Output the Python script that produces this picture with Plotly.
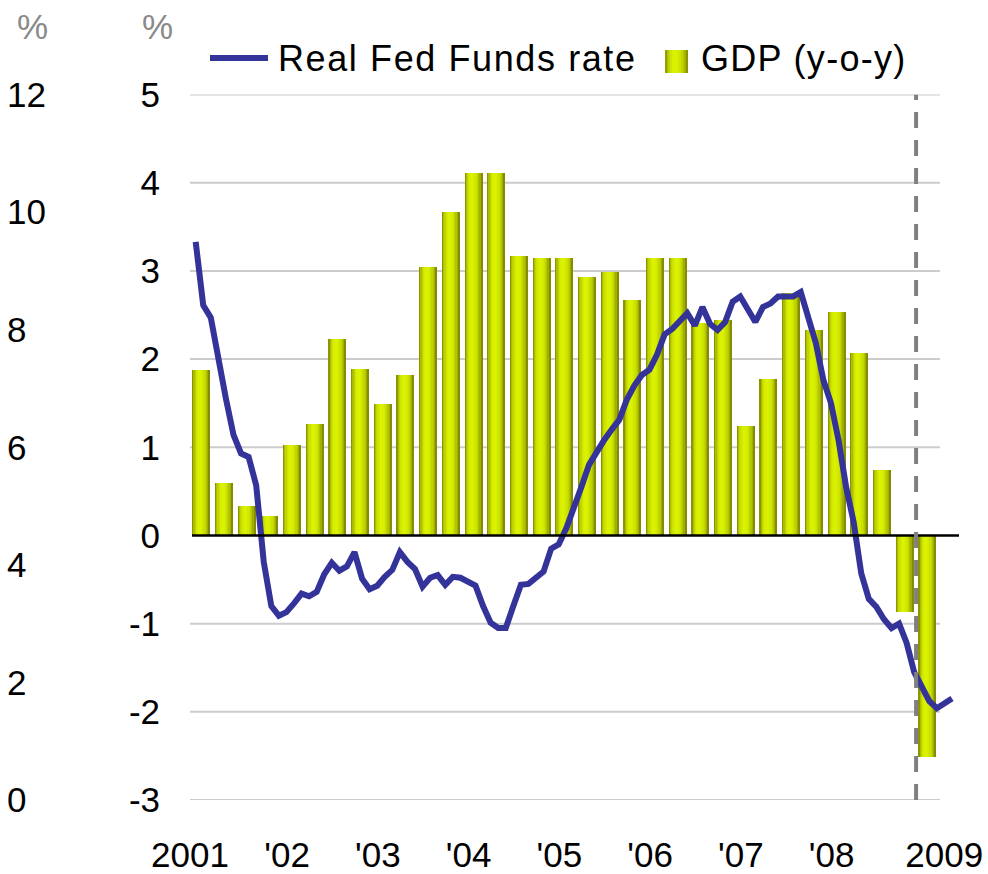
import numpy as np
import plotly.graph_objects as go

# ---------------- data ----------------
# GDP growth, y-o-y %, quarterly 2001Q1 .. 2009Q1
gdp_first_year = 2001
gdp_yoy = [1.88, 0.60, 0.345, 0.23,
           1.03, 1.27, 2.23, 1.89,
           1.50, 1.82, 3.05, 3.67,
           4.12, 4.12, 3.17, 3.15,
           3.15, 2.94, 2.99, 2.67,
           3.15, 3.15, 2.41, 2.45,
           1.25, 1.78, 2.76, 2.34,
           2.54, 2.07, 0.75, -0.865,
           -2.51]

# Real Fed Funds rate, %, monthly from Jan 2001
fed_first_year = 2001
real_fed_funds = [3.33, 2.61, 2.47, 1.99, 1.55, 1.14, 0.93, 0.89, 0.57, -0.30,
                  -0.80, -0.91, -0.87, -0.77, -0.66, -0.69, -0.64, -0.44, -0.31, -0.40,
                  -0.35, -0.19, -0.49, -0.61, -0.57, -0.47, -0.39, -0.19, -0.30, -0.38,
                  -0.58, -0.48, -0.45, -0.56, -0.47, -0.48, -0.52, -0.57, -0.80, -0.99,
                  -1.05, -1.05, -0.80, -0.56, -0.55, -0.47, -0.41, -0.15, -0.10, 0.08,
                  0.30, 0.55, 0.80, 0.95, 1.08, 1.20, 1.31, 1.54, 1.70, 1.82,
                  1.88, 2.05, 2.28, 2.34, 2.43, 2.52, 2.38, 2.59, 2.40, 2.33,
                  2.42, 2.65, 2.71, 2.56, 2.42, 2.59, 2.63, 2.71, 2.71, 2.71,
                  2.76, 2.44, 2.18, 1.76, 1.50, 1.08, 0.55, 0.15, -0.43, -0.72,
                  -0.81, -0.95, -1.05, -1.00, -1.22, -1.55, -1.70, -1.88, -1.96, -1.91,
                  -1.85]

year_ticks = [2001, 2002, 2003, 2004, 2005, 2006, 2007, 2008, 2009]
year_labels = ["2001", "'02", "'03", "'04", "'05", "'06", "'07", "'08", "2009"]
inner_ticks = [-3, -2, -1, 0, 1, 2, 3, 4, 5]
inner_labels = ["-3", "-2", "-1", "0", "1", "2", "3", "4", "5"]
outer_ticks = [0, 2, 4, 6, 8, 10, 12]
outer_labels = ["0", "2", "4", "6", "8", "10", "12"]
break_year = 2009  # dashed marker

# ---------------- layout constants ----------------
W, H = 988, 874
PX_LEFT, PX_RIGHT = 190, 960
PX_PER_YEAR = 90.76
X_MIN = 2001.0
X_MAX = X_MIN + (PX_RIGHT - PX_LEFT) / PX_PER_YEAR
PY_TOP, PY_BOT = 94.5, 800.0
LINE_COLOR = "#333399"
FONT = "Liberation Sans, Arial, Helvetica, sans-serif"


def px_to_x(px):
    return X_MIN + (px - PX_LEFT) / PX_PER_YEAR


def pxx(px):
    return px / W


def pxy(py):
    return 1 - py / H


# positions derived from data
gdp_x = [gdp_first_year + i * 0.25 + 0.125 for i in range(len(gdp_yoy))]
fed_x = [fed_first_year + (i + 0.75) / 12 for i in range(len(real_fed_funds))]

# gradient colours for cylinder-like bars
N_STRIPS = 14
BAR_W = 0.19
dark = np.array([98, 102, 0])
bright = np.array([218, 242, 0])


def strip_color(t):
    if t < 0.42:
        f = 1 - ((0.42 - t) / 0.42) ** 2
    else:
        f = 1 - ((t - 0.42) / 0.58) ** 2
    f = max(f, 0) ** 0.6
    c = dark + (bright - dark) * f
    return "rgb(%d,%d,%d)" % tuple(int(round(v)) for v in c)


fig = go.Figure()

sw = BAR_W / N_STRIPS
for k in range(N_STRIPS):
    t = (k + 0.5) / N_STRIPS
    off = -BAR_W / 2 + k * sw
    width = min(sw * 1.6, BAR_W / 2 - off)
    fig.add_trace(go.Bar(
        x=gdp_x, y=gdp_yoy, width=width, offset=off,
        marker=dict(color=strip_color(t), line=dict(width=0)),
        name="GDP (y-o-y)", showlegend=False, hoverinfo="skip", yaxis="y"))

fig.add_trace(go.Scatter(
    x=fed_x, y=real_fed_funds, mode="lines", name="Real Fed Funds rate",
    line=dict(color=LINE_COLOR, width=6), showlegend=False, yaxis="y"))

# placeholder so that the outer (left-most) percent axis is drawn
fig.add_trace(go.Scatter(x=[None], y=[None], yaxis="y2", mode="lines",
                         showlegend=False, hoverinfo="skip"))

shapes = []
# horizontal gridlines
for v in inner_ticks:
    if v == 0:
        continue
    shapes.append(dict(type="line", xref="x", yref="y", x0=X_MIN, x1=px_to_x(940),
                       y0=v, y1=v, line=dict(color="#cccccc", width=2), layer="below"))
# zero line
shapes.append(dict(type="line", xref="x", yref="y", x0=px_to_x(192), x1=px_to_x(959),
                   y0=0, y1=0, line=dict(color="black", width=2.5), layer="above"))
# dashed vertical marker
shapes.append(dict(type="line", xref="x", yref="y", x0=break_year, x1=break_year,
                   y0=inner_ticks[0], y1=inner_ticks[-1],
                   line=dict(color="#808080", width=4, dash="16px,12px"), layer="above"))

# manual legend
shapes.append(dict(type="line", xref="paper", yref="paper", x0=pxx(210), x1=pxx(268),
                   y0=pxy(58), y1=pxy(58), line=dict(color=LINE_COLOR, width=6)))
SW_L, SW_R, SW_T, SW_B = 665, 688, 50, 73
nsw = 10
for k in range(nsw):
    t = (k + 0.5) / nsw
    x0 = SW_L + k * (SW_R - SW_L) / nsw
    x1 = SW_L + (k + 1.3) * (SW_R - SW_L) / nsw
    x1 = min(x1, SW_R)
    shapes.append(dict(type="rect", xref="paper", yref="paper", x0=pxx(x0), x1=pxx(x1),
                       y0=pxy(SW_B), y1=pxy(SW_T), fillcolor=strip_color(t),
                       line=dict(width=0)))

annotations = [
    dict(text='<span style="letter-spacing:1.6px">Real Fed Funds rate</span>',
         xref="paper", yref="paper", x=pxx(276), y=pxy(59), xanchor="left", yanchor="middle",
         showarrow=False, font=dict(family=FONT, size=36, color="black")),
    dict(text='<span style="letter-spacing:1.3px">GDP (y-o-y)</span>',
         xref="paper", yref="paper", x=pxx(699), y=pxy(59), xanchor="left", yanchor="middle",
         showarrow=False, font=dict(family=FONT, size=36, color="black")),
    dict(text="%", xref="paper", yref="paper", x=pxx(32), y=pxy(27), xanchor="center",
         yanchor="middle", showarrow=False, font=dict(family=FONT, size=35, color="#8a8a8a")),
    dict(text="%", xref="paper", yref="paper", x=pxx(157), y=pxy(27), xanchor="center",
         yanchor="middle", showarrow=False, font=dict(family=FONT, size=35, color="#8a8a8a")),
]

label_shift = [0.0] + [0.07] * 7 + [0.31]
tickvals_x = [y + s for y, s in zip(year_ticks, label_shift)]

fig.update_layout(
    width=W, height=H, margin=dict(l=0, r=0, t=0, b=0, autoexpand=False),
    paper_bgcolor="white", plot_bgcolor="white",
    barmode="overlay", bargap=0, showlegend=False,
    font=dict(family=FONT, size=35, color="black"),
    shapes=shapes, annotations=annotations,
    xaxis=dict(domain=[pxx(PX_LEFT), pxx(PX_RIGHT)], range=[X_MIN, X_MAX],
               tickvals=tickvals_x, ticktext=year_labels, showgrid=False,
               zeroline=False, showline=False, ticks="", ticklabelstandoff=31,
               automargin=False,
               tickfont=dict(family=FONT, size=35, color="black")),
    yaxis=dict(domain=[1 - PY_BOT / H, 1 - PY_TOP / H], range=[inner_ticks[0], inner_ticks[-1]],
               tickvals=inner_ticks, ticktext=inner_labels, showgrid=False,
               zeroline=False, showline=False, ticks="", ticklabelstandoff=29,
               automargin=False,
               tickfont=dict(family=FONT, size=35, color="black")),
    yaxis2=dict(overlaying="y", anchor="free", position=0, side="right",
                range=[outer_ticks[0], outer_ticks[-1]], tickvals=outer_ticks,
                ticktext=outer_labels, showgrid=False, zeroline=False, showline=False,
                ticks="", ticklabelstandoff=6, automargin=False,
                tickfont=dict(family=FONT, size=35, color="black")),
)

fig.write_html(
    "out.html",
    config={"displayModeBar": False},
    post_script="document.documentElement.style.margin='0';"
                "document.body.style.margin='0';document.body.style.overflow='hidden';")
